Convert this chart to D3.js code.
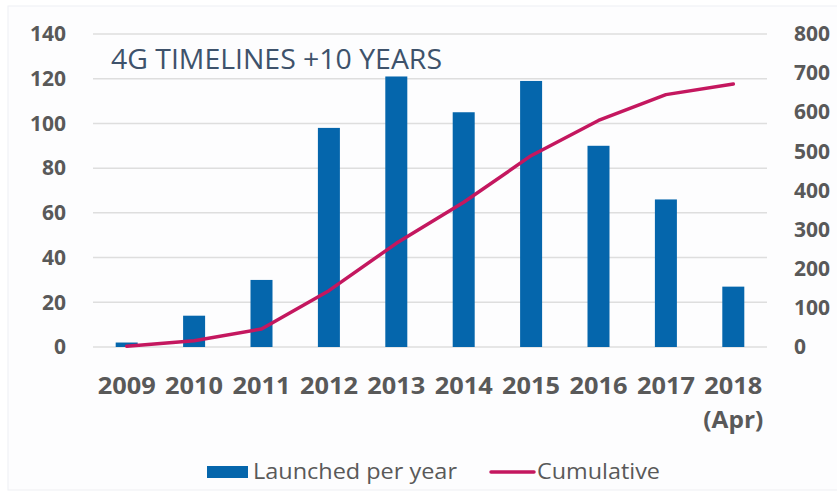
<!DOCTYPE html>
<html>
<head>
<meta charset="utf-8">
<script src="https://cdn.jsdelivr.net/npm/d3@7"></script>
<style>
  body { margin: 0; background: #fff; }
  text { font-family: "Open Sans", sans-serif; }
</style>
</head>
<body>
<div id="chart"></div>
<script>
// chart data
var years = ["2009", "2010", "2011", "2012", "2013", "2014", "2015", "2016", "2017", "2018"];
var launched = [2, 14, 30, 98, 121, 105, 119, 90, 66, 27];
var cumulative = [2, 16, 46, 144, 265, 370, 489, 579, 645, 672];
var leftTicks = [0, 20, 40, 60, 80, 100, 120, 140];
var rightTicks = [0, 100, 200, 300, 400, 500, 600, 700, 800];

var width = 837, height = 502;
var svg = d3.select('#chart').append('svg')
	.attr('width', width)
	.attr('height', height);

// faint panel
svg.append('rect')
	.attr('x', 8).attr('y', 6)
	.attr('width', width).attr('height', 484)
	.attr('fill', '#fdfdfe')
	.attr('stroke', '#eeeff3');

var x = d3.scaleBand().domain(years).range([93, 767]);
var yL = d3.scaleLinear().domain([0, 140]).range([347, 34]);
var yR = d3.scaleLinear().domain([0, 800]).range([347, 34]);

//gridlines
svg.append('g').selectAll('line')
	.data(leftTicks)
	.enter().append('line')
	.attr('x1', 93).attr('x2', 767)
	.attr('y1', function(d) { return yL(d); })
	.attr('y2', function(d) { return yL(d); })
	.attr('stroke', '#dedede')
	.attr('stroke-width', 1.5);

//left axis
var left = svg.append('g')
	.attr('transform', 'translate(66,0)')
	.call(d3.axisLeft(yL).tickValues(leftTicks).tickSize(0).tickPadding(0));
left.select('.domain').remove();
left.selectAll('text')
	.attr('font-family', '"Open Sans", sans-serif')
	.attr('font-size', 21).attr('font-weight', 700)
	.attr('fill', '#595959');

//right axis
var right = svg.append('g')
	.attr('transform', 'translate(794,0)')
	.call(d3.axisRight(yR).tickValues(rightTicks).tickSize(0).tickPadding(0));
right.select('.domain').remove();
right.selectAll('text')
	.attr('font-family', '"Open Sans", sans-serif')
	.attr('font-size', 21).attr('font-weight', 700)
	.attr('fill', '#595959');

//bars
var barW = 22;
svg.append('g').selectAll('rect')
	.data(launched)
	.enter().append('rect')
	.attr('x', function(d, i) { return x(years[i]) + x.bandwidth() / 2 - barW / 2; })
	.attr('y', function(d) { return yL(d); })
	.attr('width', barW)
	.attr('height', function(d) { return yL(0) - yL(d); })
	.attr('fill', '#0566ac');

//cumulative line
var line = d3.line()
	.x(function(d, i) { return x(years[i]) + x.bandwidth() / 2; })
	.y(function(d) { return yR(d); });
svg.append('path')
	.datum(cumulative)
	.attr('d', line)
	.attr('fill', 'none')
	.attr('stroke', '#c4175f')
	.attr('stroke-width', 3.5)
	.attr('stroke-linecap', 'round')
	.attr('stroke-linejoin', 'round');

//x labels
svg.append('g').selectAll('text')
	.data(years)
	.enter().append('text')
	.attr('x', function(d) { return x(d) + x.bandwidth() / 2; })
	.attr('y', 394)
	.attr('text-anchor', 'middle')
	.attr('font-size', 23).attr('font-weight', 700)
	.attr('fill', '#595959')
	.attr('textLength', 58)
	.attr('lengthAdjust', 'spacingAndGlyphs')
	.text(function(d) { return d; });
svg.append('text')
	.attr('x', x('2018') + x.bandwidth() / 2)
	.attr('y', 428)
	.attr('text-anchor', 'middle')
	.attr('font-size', 23).attr('font-weight', 700)
	.attr('fill', '#595959')
	.attr('textLength', 60)
	.attr('lengthAdjust', 'spacingAndGlyphs')
	.text('(Apr)');

//title
svg.append('text')
	.attr('x', 111).attr('y', 69)
	.attr('font-family', 'Lato, sans-serif')
	.attr('font-size', 27)
	.attr('fill', '#3e526b')
	.attr('textLength', 331)
	.attr('lengthAdjust', 'spacingAndGlyphs')
	.text('4G TIMELINES +10 YEARS');

//legend
var lg = svg.append('g');
lg.append('rect')
	.attr('x', 207).attr('y', 466)
	.attr('width', 41).attr('height', 12)
	.attr('fill', '#0566ac');
lg.append('text')
	.attr('x', 253).attr('y', 479)
	.attr('font-size', 21)
	.attr('fill', '#595959')
	.attr('textLength', 204)
	.attr('lengthAdjust', 'spacingAndGlyphs')
	.text('Launched per year');
lg.append('line')
	.attr('x1', 491).attr('x2', 534)
	.attr('y1', 472).attr('y2', 472)
	.attr('stroke', '#c4175f')
	.attr('stroke-width', 3.5)
	.attr('stroke-linecap', 'round');
lg.append('text')
	.attr('x', 537).attr('y', 479)
	.attr('font-size', 21)
	.attr('fill', '#595959')
	.attr('textLength', 123)
	.attr('lengthAdjust', 'spacingAndGlyphs')
	.text('Cumulative');
</script>
</body>
</html>
